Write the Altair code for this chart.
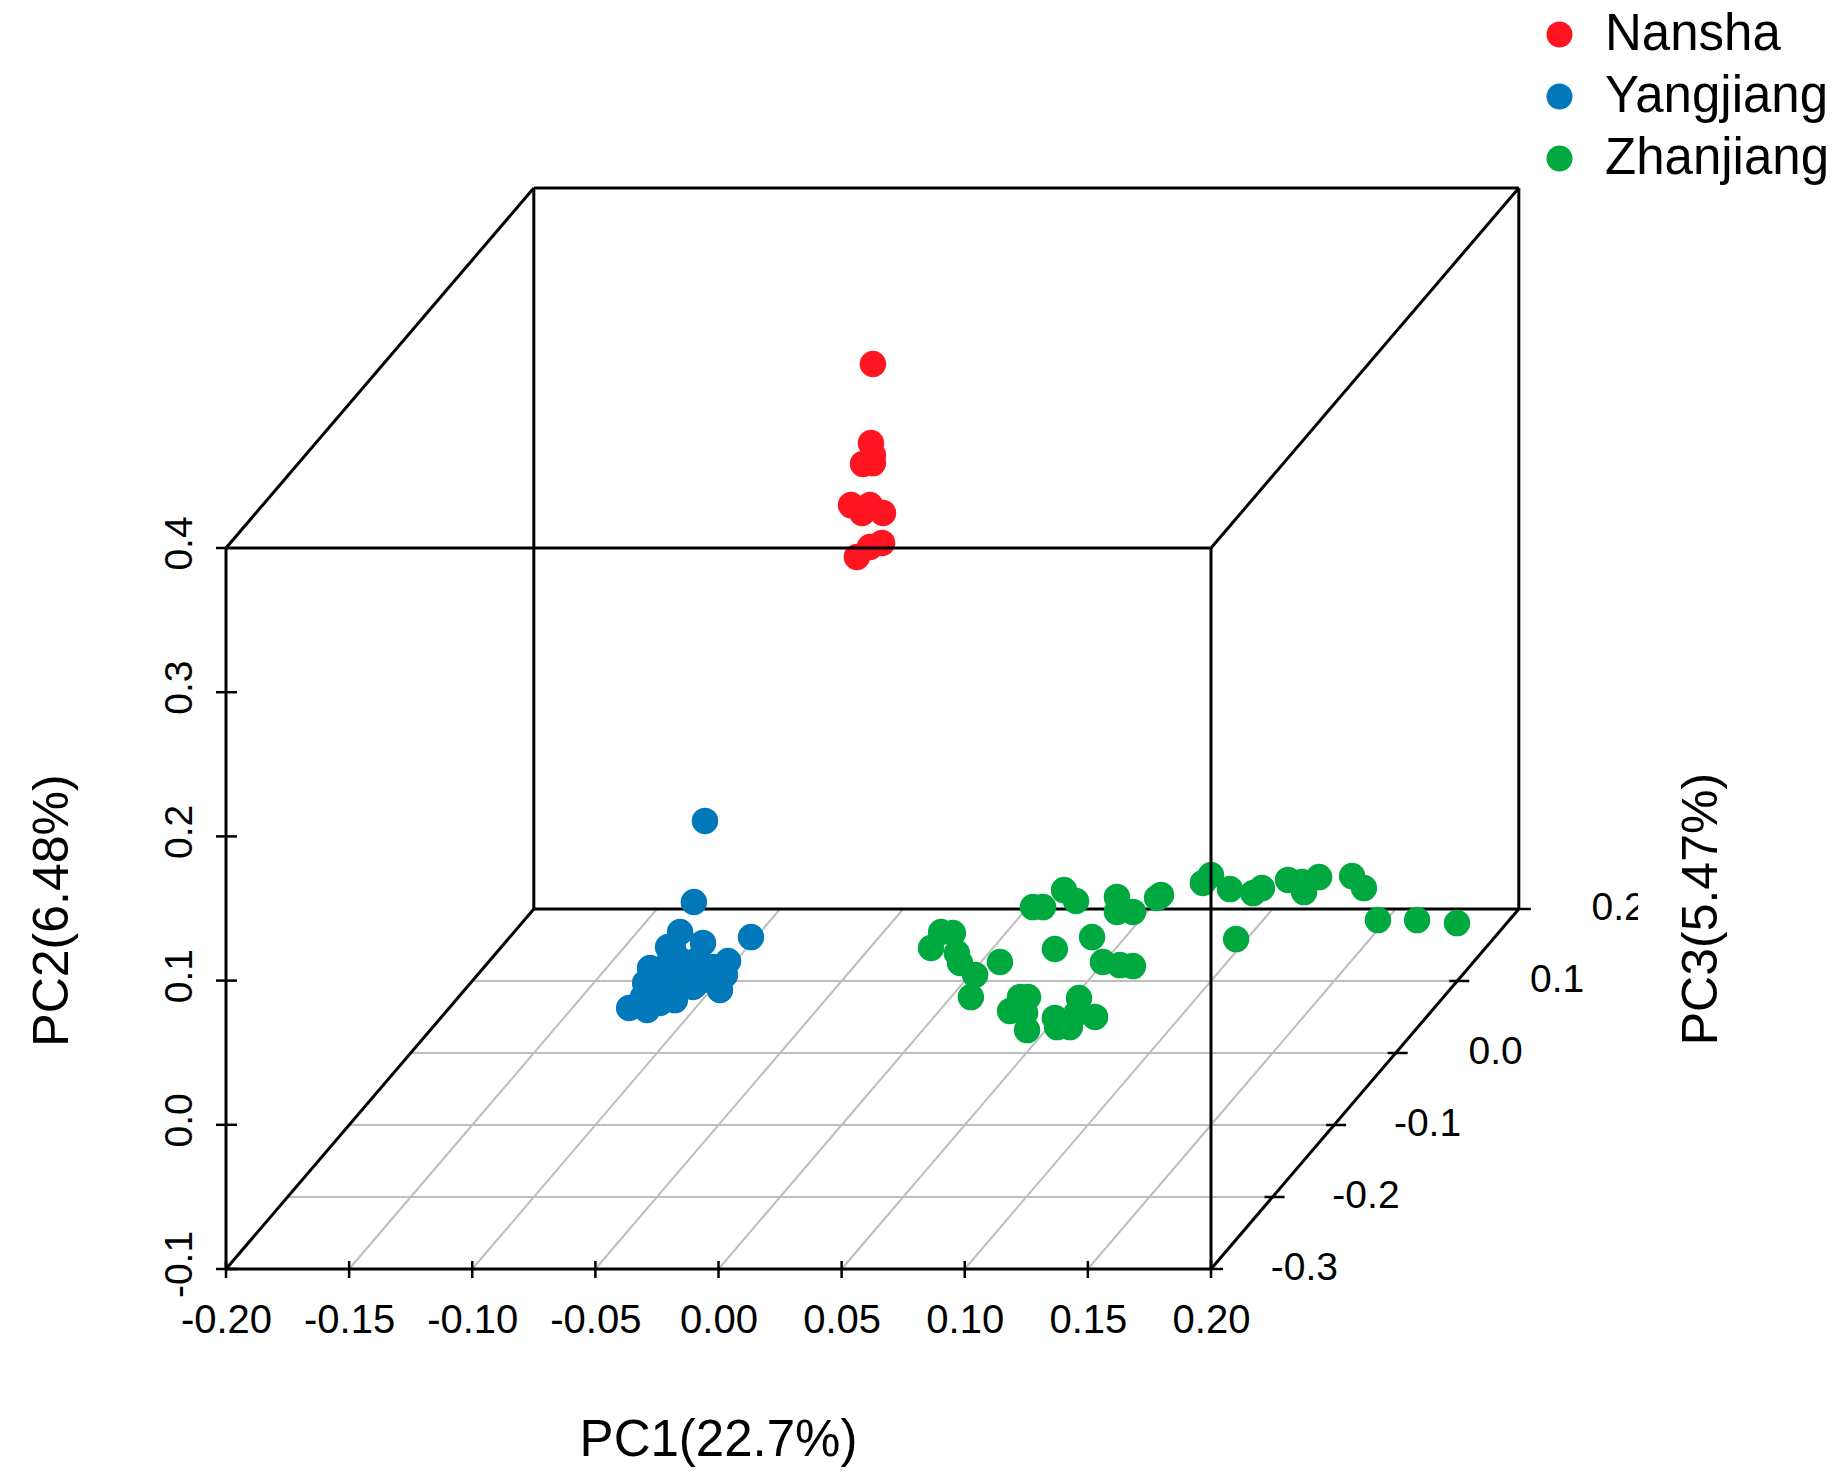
import altair as alt
import pandas as pd

FONT = "Liberation Sans"

# Projected point positions, read in PC1 / PC2 axis units
nansha_x = [.0627,.0619,.0627,.0587,.0627,.0538,.0583,.0615,.0668,.0562,.0615,.0664]
nansha_y = [.5276,.4728,.4645,.4583,.4589,.4298,.4243,.4298,.4243,.3938,.4007,.4035]

yangjiang_x = [-.0055,-.0100,.0132,-.0156,-.0063,-.0205,.0039,-.0278,.0006,-.0363,-.0290,-.0238,-.0185,-.0298,
               -.0225,-.0144,-.0063,-.0156,-.0087,-.0022,-.0209,-.0104,-.0266,-.0185,-.0035,-.0128,-.0250,-.0307,
               -.0177,-.0095,-.0217,-.0197,.0026]
yangjiang_y = [.2107,.1545,.1302,.1337,.1261,.1233,.1136,.1087,.0935,.0810,.0796,.0845,.0879,.0983,
               .0983,.1004,.1025,.1143,.1143,.1094,.1074,.0956,.0886,.1233,.1004,.1053,.1004,.0886,
               .0865,.0969,.0900,.1143,.1039]

zhanjiang_x = [.0863,.0904,.0952,.0968,.0981,.1042,.1143,.1025,.1224,.1257,.1184,.1253,.1245,.1366,.1517,.1561,
               .1630,.1683,.1277,.1318,.1403,.1452,.1618,.1618,.1683,.1797,.1781,.1366,.1375,.1427,.1464,.1456,
               .1529,.1967,.2000,.2077,.2171,.2207,.2313,.2378,.2370,.2439,.2573,.2621,.2678,.2837,.2999,.2102]
zhanjiang_y = [.1226,.1337,.1330,.1191,.1122,.1039,.1129,.0886,.0886,.0886,.0789,.0657,.0775,.1219,.1302,.1129,
               .1108,.1101,.1510,.1510,.1628,.1552,.1580,.1476,.1476,.1594,.1573,.0741,.0678,.0678,.0879,.0775,
               .0748,.1677,.1732,.1635,.1607,.1642,.1698,.1614,.1684,.1718,.1725,.1642,.1420,.1420,.1399,.1288]

site_names = ["Nansha", "Yangjiang", "Zhanjiang"]
site_colors = ["#FF1421", "#0078B9", "#00A940"]

pc1_ticks = [-0.20, -0.15, -0.10, -0.05, 0.00, 0.05, 0.10, 0.15, 0.20]
pc2_ticks = [-0.1, 0.0, 0.1, 0.2, 0.3, 0.4]
pc3_ticks = [-0.3, -0.2, -0.1, 0.0, 0.1, 0.2]

# Box limits and oblique projection of PC3 onto the PC1/PC2 plane
X0, X1, Y0, Y1, Z0, Z1 = -0.2, 0.2, -0.1, 0.4, -0.3, 0.2
DEPTH_X, DEPTH_Y = 0.25, 0.4993


def proj(x, y, z):
    return x + (z - Z0) * DEPTH_X, y + (z - Z0) * DEPTH_Y


def seg(a, b):
    ax, ay = proj(*a)
    bx, by = proj(*b)
    return {"x": ax, "y": ay, "x2": bx, "y2": by}


W, H = 1832, 1464
xscale = alt.Scale(domain=[-0.28853, 0.45543], nice=False, zero=False)
yscale = alt.Scale(domain=[-0.24078, 0.77448], nice=False, zero=False)
UX, UY = 1 / 2462.5, 1 / 1442

xaxis = alt.Axis(
    values=pc1_ticks, labelExpr="replace(format(datum.value, '.2f'), '\u2212', '-')",
    orient="bottom", offset=-203, domain=False, ticks=False, grid=False,
    labelFont=FONT, labelFontSize=40, labelColor="black", labelPadding=31, labelFlush=False, labelOverlap=False,
    title="PC1(22.7%)", titleFont=FONT, titleFontSize=51, titleFontWeight="normal", titleColor="black",
    titleX=710, titleY=186, titleAlign="center", titleBaseline="alphabetic", titleAnchor="start")
yaxis = alt.Axis(
    values=pc2_ticks, labelExpr="replace(format(datum.value, '.1f'), '\u2212', '-')",
    orient="left", offset=-218, domain=False, ticks=False, grid=False,
    labelFont=FONT, labelFontSize=39, labelColor="black", labelAngle=270, labelAlign="center",
    labelBaseline="alphabetic", labelPadding=35, labelOffset=-5, labelFlush=False, labelOverlap=False,
    title="PC2(6.48%)", titleFont=FONT, titleFontSize=50, titleFontWeight="normal", titleColor="black",
    titleX=-159, titleY=902, titleAngle=270, titleAlign="center", titleBaseline="alphabetic", titleAnchor="start")

grid = [seg((X0, Y0, z), (X1, Y0, z)) for z in pc3_ticks[1:-1]] + \
       [seg((x, Y0, Z0), (x, Y0, Z1)) for x in pc1_ticks[1:-1]]
back = [seg((X0, Y0, Z1), (X1, Y0, Z1)), seg((X0, Y1, Z1), (X1, Y1, Z1)),
        seg((X0, Y0, Z1), (X0, Y1, Z1)), seg((X1, Y0, Z1), (X1, Y1, Z1)),
        seg((X0, Y0, Z0), (X0, Y0, Z1)), seg((X0, Y1, Z0), (X0, Y1, Z1)),
        seg((X1, Y1, Z0), (X1, Y1, Z1)), seg((X1, Y0, Z0), (X1, Y0, Z1))]
front = [seg((X0, Y0, Z0), (X1, Y0, Z0)), seg((X0, Y1, Z0), (X1, Y1, Z0)),
         seg((X0, Y0, Z0), (X0, Y1, Z0)), seg((X1, Y0, Z0), (X1, Y1, Z0))]

ticks = []
for t in pc1_ticks:
    ticks.append({"x": t, "y": Y0 - 9 * UY, "x2": t, "y2": Y0 + 8 * UY})
for t in pc2_ticks:
    ticks.append({"x": X0 - 10 * UX, "y": t, "x2": X0 + (11 * UX if t < Y1 else 0), "y2": t})
for t in pc3_ticks:
    px, py = proj(X1, Y0, t)
    ticks.append({"x": px - (8 * UX if Z0 < t < Z1 else 0), "y": py, "x2": px + 12 * UX, "y2": py})

pts = pd.DataFrame(
    [{"pc1": a, "pc2": b, "site": site_names[0]} for a, b in zip(nansha_x, nansha_y)]
    + [{"pc1": a, "pc2": b, "site": site_names[1]} for a, b in zip(yangjiang_x, yangjiang_y)]
    + [{"pc1": a, "pc2": b, "site": site_names[2]} for a, b in zip(zhanjiang_x, zhanjiang_y)]
)


def rules(rows, color, width):
    return alt.Chart(pd.DataFrame(rows)).mark_rule(color=color, strokeWidth=width).encode(
        x=alt.X("x:Q", scale=xscale, axis=xaxis, title="PC1(22.7%)"),
        y=alt.Y("y:Q", scale=yscale, axis=yaxis, title="PC2(6.48%)"),
        x2="x2:Q",
        y2="y2:Q",
    )


points = alt.Chart(pts).mark_circle(size=700, opacity=1).encode(
    x=alt.X("pc1:Q", scale=xscale, axis=xaxis, title="PC1(22.7%)"),
    y=alt.Y("pc2:Q", scale=yscale, axis=yaxis, title="PC2(6.48%)"),
    color=alt.Color("site:N", scale=alt.Scale(domain=site_names, range=site_colors), legend=alt.Legend(
        title=None, orient="none", legendX=1526, legendY=1, symbolType="circle", symbolSize=676, symbolStrokeWidth=0,
        labelFont=FONT, labelFontSize=51, labelColor="black", labelOffset=20, rowPadding=10, labelLimit=400,
        padding=0, offset=0)),
)

z_rows = []
for t in pc3_ticks:
    px, py = proj(X1, Y0, t)
    z_rows.append({"x": px, "y": py, "label": f"{t:.1f}"})
z_labels = alt.Chart(pd.DataFrame(z_rows)).mark_text(
    font=FONT, fontSize=39, color="black", align="right", baseline="middle", dx=127, dy=-1
).encode(
    x=alt.X("x:Q", scale=xscale, axis=xaxis, title="PC1(22.7%)"),
    y=alt.Y("y:Q", scale=yscale, axis=yaxis, title="PC2(6.48%)"),
    text="label:N",
)

# The reference cuts the last PC3 label at its plot edge
cut = alt.Chart(pd.DataFrame([{"x": .3734, "x2": .3803, "y": .1351, "y2": .1698}])).mark_rect(color="white").encode(
    x=alt.X("x:Q", scale=xscale, axis=xaxis, title="PC1(22.7%)"),
    x2="x2:Q",
    y=alt.Y("y:Q", scale=yscale, axis=yaxis, title="PC2(6.48%)"),
    y2="y2:Q",
)

z_title = alt.Chart(pd.DataFrame([{"x": .4055, "y": .1496, "label": "PC3(5.47%)"}])).mark_text(
    font=FONT, fontSize=50, color="black", angle=270, align="center", baseline="alphabetic"
).encode(
    x=alt.X("x:Q", scale=xscale, axis=xaxis, title="PC1(22.7%)"),
    y=alt.Y("y:Q", scale=yscale, axis=yaxis, title="PC2(6.48%)"),
    text="label:N",
)

chart = alt.layer(
    rules(grid, "#bebebe", 2),
    rules(back, "black", 3),
    points,
    rules(front, "black", 3),
    rules(ticks, "black", 2.5),
    z_labels,
    cut,
    z_title,
).properties(
    width=W, height=H, padding=0,
    autosize=alt.AutoSizeParams(type="none"),
    background="white",
).configure_view(stroke=None)

chart.save("out.html", embed_options={"renderer": "svg", "actions": False})
